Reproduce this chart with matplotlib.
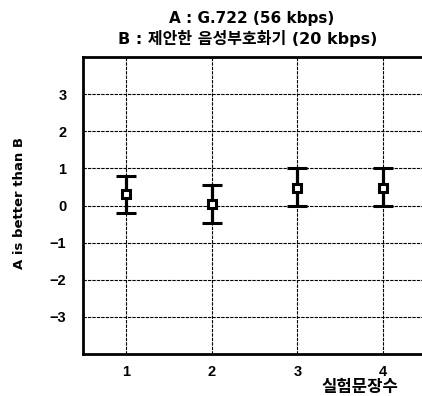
import matplotlib
matplotlib.use("Agg")
import matplotlib.pyplot as plt

TEXT_FONTS = ["DejaVu Sans", "Noto Sans CJK KR"]
TICK_FONTS = ["Liberation Sans", "DejaVu Sans"]
plt.rcParams["font.family"] = TEXT_FONTS
plt.rcParams["font.weight"] = "bold"

# --- Data ---
sentences = [1, 2, 3, 4]
means = [0.32, 0.03, 0.48, 0.48]
upper = [0.80, 0.54, 1.00, 1.00]
lower = [-0.19, -0.48, 0.00, 0.00]
y_ticks = [-3, -2, -1, 0, 1, 2, 3]
x_ticks = [1, 2, 3, 4]

err_low = [m - lo for m, lo in zip(means, lower)]
err_high = [hi - m for m, hi in zip(means, upper)]

fig = plt.figure(figsize=(4.22, 3.96), dpi=100)
ax = fig.add_axes([83 / 422, 1 - 354 / 396, 343 / 422, 297 / 396])

ax.errorbar(
    sentences, means, yerr=[err_low, err_high],
    fmt="s", color="black", ecolor="black", elinewidth=2.3,
    capsize=7, capthick=2.3, markersize=6,
    markerfacecolor="white", markeredgecolor="black", markeredgewidth=2.2,
    zorder=3,
)

ax.set_xlim(0.5, 4.5)
ax.set_ylim(-4, 4)
ax.set_xticks(x_ticks)
ax.set_yticks(y_ticks)
ax.set_yticklabels([f"{v}".replace("-", "\u2212") for v in y_ticks])
ax.tick_params(length=0, labelsize=10.5)
ax.tick_params(axis="y", pad=12)
ax.tick_params(axis="x", pad=8)
for lab in ax.get_xticklabels() + ax.get_yticklabels():
    lab.set_fontweight("bold")
    lab.set_family(TICK_FONTS)

ax.grid(True, color="black", linestyle=(0, (3, 1)), linewidth=0.8)
ax.set_axisbelow(True)
for side in ("left", "bottom", "top"):
    ax.spines[side].set_linewidth(2)
ax.spines["right"].set_visible(False)

fig.text(252 / 422, 1 - 18 / 396, "A : G.722 (56 kbps)", ha="center", va="center",
         fontsize=11, fontweight="bold")
fig.text(248 / 422, 1 - 38 / 396, "B : 제안한 음성부호화기 (20 kbps)", ha="center", va="center",
         fontsize=11.5, fontweight="bold")
fig.text(20 / 422, 1 - 203 / 396, "A is better than B", rotation=90, ha="center", va="center",
         fontsize=9.5, fontweight="bold")
fig.text(360 / 422, 1 - 387 / 396, "실험문장수", ha="center", va="center",
         fontsize=12, fontweight="bold")

fig.savefig("out.png", dpi=100, facecolor="white")
